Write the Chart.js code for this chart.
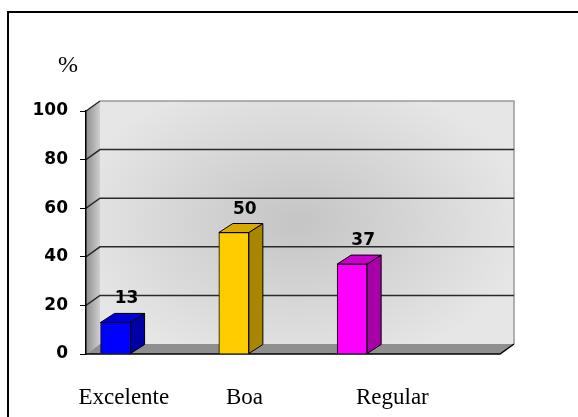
<!DOCTYPE html>
<html>
<head>
<meta charset="utf-8">
<script src="https://cdn.jsdelivr.net/npm/chart.js@4/dist/chart.umd.min.js"></script>
<style>
  body { margin: 0; background: #fff; }
  #wrap { width: 578px; height: 417px; }
</style>
</head>
<body>
<div id="wrap"><canvas id="chart" width="578" height="417"></canvas></div>
<script>
// ===== DATOS =====
const categories  = ['Excelente', 'Boa', 'Regular'];
const percentages = [13, 50, 37];
const yTicks      = [0, 20, 40, 60, 80, 100];

// ===== ESTILO =====
const faceColors = ['#0000ff', '#ffcc00', '#ff00ff'];
const sideColors = ['#0000a6', '#a88600', '#a800a8'];
const topColors  = ['#0000d2', '#d6a800', '#cc00cc'];
const labelShift = [0.07, 0.09, 0.34];   // desplazamiento de las etiquetas del eje x
const WALL = { dx: 14, dy: -10 };        // profundidad de paredes
const BAR  = { dx: 14, dy: -9 };         // profundidad de las barras

// ===== PAREDES, PISO Y MARCO =====
const wallsPlugin = {
    id: 'walls',
    beforeDraw(chart) {
        const { ctx, chartArea: a, scales: { y } } = chart;
        const bx0 = a.left + WALL.dx, bx1 = a.right + WALL.dx;
        const by0 = a.top + WALL.dy,  by1 = a.bottom + WALL.dy;

        ctx.save();
        ctx.fillStyle = '#fff';
        ctx.fillRect(0, 0, chart.width, chart.height);

        // pared del fondo con degradado
        const cx = (bx0 + bx1) / 2 - 10, cy = (by0 + by1) / 2;
        ctx.save();
        ctx.beginPath();
        ctx.rect(bx0, by0, bx1 - bx0, by1 - by0);
        ctx.clip();
        ctx.translate(cx, cy);
        ctx.scale(1, 0.65);
        const g = ctx.createRadialGradient(0, 0, 10, 0, 0, 230);
        g.addColorStop(0, '#c6c6c6');
        g.addColorStop(1, '#e6e6e6');
        ctx.fillStyle = g;
        ctx.fillRect(-400, -400, 800, 800);
        ctx.restore();

        // borde derecho y superior de la pared
        ctx.strokeStyle = '#9a9a9a';
        ctx.lineWidth = 1.5;
        ctx.beginPath();
        ctx.moveTo(bx0, by0); ctx.lineTo(bx1, by0); ctx.lineTo(bx1, by1);
        ctx.stroke();

        // pared lateral
        const sg = ctx.createLinearGradient(a.left, 0, bx0, 0);
        sg.addColorStop(0, '#8e8e8e');
        sg.addColorStop(1, '#cfcfcf');
        ctx.fillStyle = sg;
        ctx.beginPath();
        ctx.moveTo(a.left, a.top); ctx.lineTo(bx0, by0);
        ctx.lineTo(bx0, by1); ctx.lineTo(a.left, a.bottom);
        ctx.closePath();
        ctx.fill();

        // piso
        ctx.fillStyle = '#8f8f8f';
        ctx.beginPath();
        ctx.moveTo(a.left, a.bottom); ctx.lineTo(bx0, by1);
        ctx.lineTo(bx1, by1); ctx.lineTo(a.right, a.bottom);
        ctx.closePath();
        ctx.fill();

        // líneas de la cuadrícula
        ctx.strokeStyle = '#2a2a2a';
        ctx.lineWidth = 1.5;
        yTicks.forEach(v => {
            if (v === 0) return;
            const py = y.getPixelForValue(v);
            ctx.beginPath();
            ctx.moveTo(a.left, py);
            ctx.lineTo(bx0, py + WALL.dy);
            if (v !== 100) ctx.lineTo(bx1, py + WALL.dy);
            ctx.stroke();
        });

        // borde frontal del piso
        ctx.strokeStyle = '#000';
        ctx.beginPath();
        ctx.moveTo(a.left, a.bottom); ctx.lineTo(a.right, a.bottom);
        ctx.lineTo(bx1, by1);
        ctx.stroke();

        // marco
        ctx.lineWidth = 2;
        ctx.beginPath();
        ctx.moveTo(8, chart.height); ctx.lineTo(8, 12); ctx.lineTo(chart.width, 12);
        ctx.stroke();

        // unidad del eje y
        ctx.fillStyle = '#000';
        ctx.font = '24px "Liberation Serif"';
        ctx.textAlign = 'center';
        ctx.textBaseline = 'alphabetic';
        ctx.fillText('%', y.right - 18, 72);
        ctx.restore();
    }
};

// ===== CARAS 3D Y VALORES DE LAS BARRAS =====
const barsPlugin = {
    id: 'bars3d',
    afterDatasetsDraw(chart) {
        const { ctx } = chart;
        const meta = chart.getDatasetMeta(0);
        ctx.save();
        ctx.strokeStyle = '#000';
        ctx.lineWidth = 1;
        meta.data.forEach((bar, i) => {
            const l = bar.x - bar.width / 2, r = bar.x + bar.width / 2;
            const t = bar.y, b = bar.base;

            // cara lateral
            ctx.fillStyle = sideColors[i];
            ctx.beginPath();
            ctx.moveTo(r, t); ctx.lineTo(r + BAR.dx, t + BAR.dy);
            ctx.lineTo(r + BAR.dx, b + BAR.dy); ctx.lineTo(r, b);
            ctx.closePath();
            ctx.fill(); ctx.stroke();

            // cara superior
            ctx.fillStyle = topColors[i];
            ctx.beginPath();
            ctx.moveTo(l, t); ctx.lineTo(l + BAR.dx, t + BAR.dy);
            ctx.lineTo(r + BAR.dx, t + BAR.dy); ctx.lineTo(r, t);
            ctx.closePath();
            ctx.fill(); ctx.stroke();

            // valor
            ctx.fillStyle = '#000';
            ctx.font = 'bold 17px "DejaVu Sans"';
            ctx.textAlign = 'center';
            ctx.textBaseline = 'alphabetic';
            ctx.fillText(String(percentages[i]), bar.x + 11, t - 19);
        });
        ctx.restore();
    }
};

// ===== GRÁFICA =====
new Chart(document.getElementById('chart'), {
    type: 'bar',
    data: {
        datasets: [{
            data: percentages.map((v, i) => ({ x: i, y: v })),
            backgroundColor: faceColors,
            borderColor: '#000',
            borderWidth: 1,
            barThickness: 30,
        }]
    },
    options: {
        responsive: false,
        animation: false,
        layout: { padding: { top: 111, right: 78, left: 0, bottom: 0 } },
        plugins: { legend: { display: false }, tooltip: { enabled: false } },
        scales: {
            x: {
                type: 'linear',
                min: -0.25,
                max: 3.25,
                offset: false,
                grid: { display: false, offset: false },
                border: { display: false },
                afterBuildTicks: scale => {
                    scale.ticks = categories.map((c, i) => ({ value: i + labelShift[i] }));
                },
                afterFit: scale => { scale.height = 63; },
                ticks: {
                    autoSkip: false,
                    maxRotation: 0,
                    padding: 22,
                    color: '#000',
                    font: { family: 'Liberation Serif', size: 23 },
                    callback: (value, index) => categories[index],
                }
            },
            y: {
                min: 0,
                max: 100,
                afterBuildTicks: scale => {
                    scale.ticks = yTicks.map(v => ({ value: v }));
                },
                afterFit: scale => { scale.width = 86; },
                grid: { drawOnChartArea: false, drawTicks: true, tickLength: 6, color: '#000', lineWidth: 1 },
                border: { display: true, color: '#000', width: 1.5 },
                ticks: {
                    padding: 12,
                    color: '#000',
                    font: { family: 'DejaVu Sans', size: 17, weight: 'bold' },
                }
            }
        }
    },
    plugins: [wallsPlugin, barsPlugin]
});
</script>
</body>
</html>
